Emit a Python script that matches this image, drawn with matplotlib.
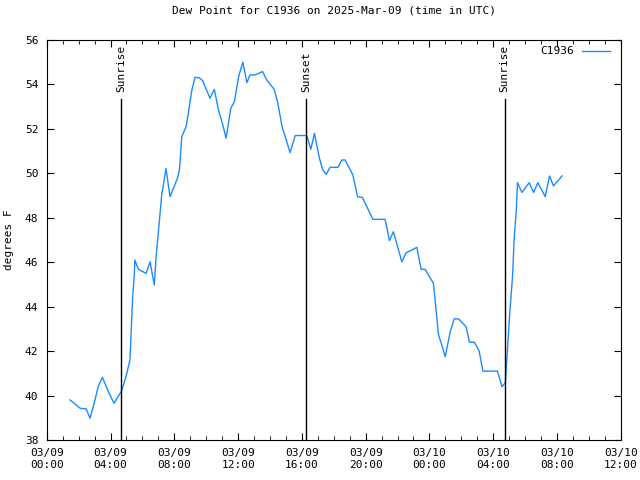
import matplotlib
matplotlib.use("Agg")
import matplotlib.pyplot as plt
from matplotlib.ticker import MultipleLocator

# hours since 2025-03-09 00:00 UTC
hours = [1.46, 1.78, 2.09, 2.47, 2.72, 2.92, 3.24, 3.49, 3.87, 4.22, 4.70, 4.97,
         5.22, 5.39, 5.50, 5.52, 5.75, 6.23, 6.48, 6.65, 6.75, 6.86, 7.07, 7.21,
         7.48, 7.73, 8.20, 8.32, 8.47, 8.74, 8.88, 9.10, 9.30, 9.57, 9.79, 9.93,
         10.24, 10.51, 10.77, 11.04, 11.25, 11.54, 11.77, 12.06, 12.30, 12.55,
         12.75, 13.07, 13.53, 13.80, 14.26, 14.47, 14.78, 14.99, 15.26, 15.58,
         16.00, 16.31, 16.56, 16.79, 17.10, 17.31, 17.52, 17.77, 18.26, 18.51,
         18.71, 19.20, 19.49, 19.80, 20.45, 21.22, 21.49, 21.74, 22.06, 22.27,
         22.54, 22.90, 23.21, 23.48, 23.73, 24.00, 24.25, 24.57, 24.74, 24.99,
         25.30, 25.55, 25.82, 26.30, 26.51, 26.82, 27.12, 27.35, 27.92, 28.27,
         28.55, 28.76, 28.86, 29.02, 29.21, 29.32, 29.44, 29.52, 29.80, 30.26,
         30.53, 30.80, 31.26, 31.53, 31.78, 32.31]
dewpt = [39.80, 39.62, 39.43, 39.40, 38.98, 39.50, 40.43, 40.82, 40.17, 39.65,
         40.22, 40.85, 41.60, 44.45, 45.50, 46.10, 45.68, 45.50, 46.02, 45.35,
         44.97, 46.25, 47.90, 49.03, 50.22, 48.95, 49.78, 50.15, 51.65, 52.10,
         52.70, 53.75, 54.32, 54.30, 54.16, 53.90, 53.38, 53.78, 52.85, 52.18,
         51.58, 52.92, 53.23, 54.43, 55.00, 54.08, 54.43, 54.43, 54.58, 54.20,
         53.78, 53.23, 52.03, 51.58, 50.93, 51.70, 51.70, 51.70, 51.08, 51.80,
         50.68, 50.15, 49.95, 50.27, 50.27, 50.60, 50.60, 49.93, 48.95, 48.91,
         47.93, 47.93, 46.97, 47.37, 46.55, 46.02, 46.43, 46.55, 46.67, 45.68,
         45.68, 45.35, 45.05, 42.73, 42.35, 41.75, 42.87, 43.45, 43.45, 43.10,
         42.40, 42.40, 42.00, 41.10, 41.10, 41.10, 40.40, 40.58, 41.68, 43.55,
         45.35, 47.15, 48.23, 49.58, 49.14, 49.58, 49.14, 49.58, 48.95, 49.88,
         49.43, 49.88]

sun_events = ["Sunrise", "Sunset", "Sunrise"]
sun_hours = [4.68, 16.29, 28.71]
sun_top = 53.33

tick_hours = [0, 4, 8, 12, 16, 20, 24, 28, 32, 36]
tick_labels = ["03/09\n00:00", "03/09\n04:00", "03/09\n08:00", "03/09\n12:00",
               "03/09\n16:00", "03/09\n20:00", "03/10\n00:00", "03/10\n04:00",
               "03/10\n08:00", "03/10\n12:00"]

plt.rcParams['font.family'] = ['DejaVu Sans Mono']
plt.rcParams['font.size'] = 8

fig = plt.figure(figsize=(6.4, 4.8), dpi=100)
ax = fig.add_axes([0.073, 0.0833, 0.897, 0.8334])

ax.plot(hours, dewpt, color='#1a8cff', lw=1, label='C1936')

for name, h in zip(sun_events, sun_hours):
    ax.plot([h, h], [38, sun_top], color='black', lw=1)
    ax.annotate(name, (h, sun_top), xytext=(0, 5), textcoords='offset points',
                rotation=90, ha='center', va='bottom')

ax.set_xlim(0, 36)
ax.set_ylim(38, 56)
ax.set_xticks(tick_hours)
ax.set_xticklabels(tick_labels)
ax.xaxis.set_minor_locator(MultipleLocator(1))
ax.yaxis.set_major_locator(MultipleLocator(2))
ax.tick_params(which='both', direction='in', top=True, right=True)
ax.tick_params(which='major', length=5, pad=6)
ax.tick_params(which='minor', length=3)

ax.set_title('Dew Point for C1936 on 2025-Mar-09 (time in UTC)', fontsize=8, pad=19)
ax.set_ylabel('degrees F', labelpad=8)

ax.legend(loc='upper right', bbox_to_anchor=(0.989, 0.995), frameon=False,
          markerfirst=False, handlelength=2.5, handletextpad=0.7, borderaxespad=0)

fig.savefig('out.png', dpi=100)
